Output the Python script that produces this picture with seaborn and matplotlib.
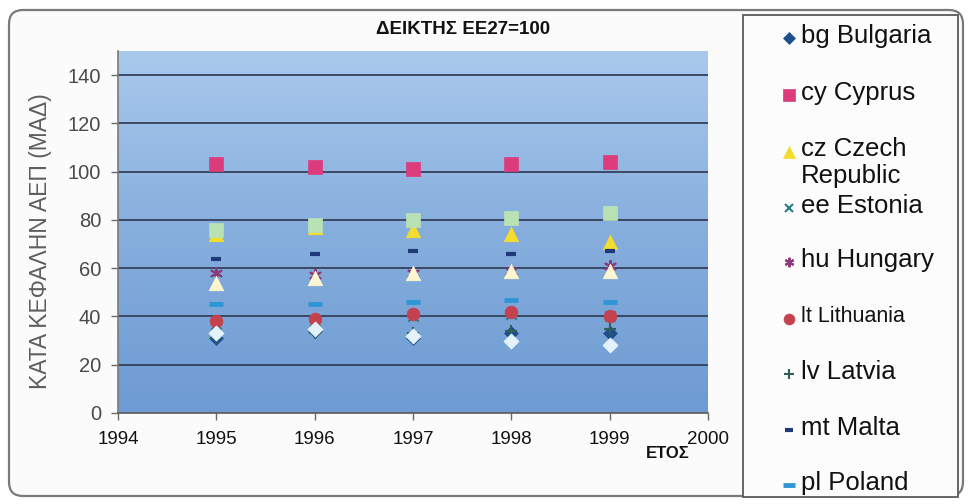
import numpy as np
import pandas as pd
import matplotlib
matplotlib.use("Agg")
import matplotlib.pyplot as plt
import seaborn as sns
from matplotlib.patches import FancyBboxPatch, Rectangle
from matplotlib.colors import LinearSegmentedColormap

# ---------------- data ----------------
years = [1995, 1996, 1997, 1998, 1999]
countries = ["bg Bulgaria", "cy Cyprus", "cz Czech Republic", "ee Estonia",
             "hu Hungary", "lt Lithuania", "lv Latvia", "mt Malta", "pl Poland",
             "ro Romania", "si Slovenia", "sk Slovakia"]
bg = [31, 34, 31, 33, 33]
cy = [103, 102, 101, 103, 104]
cz = [74, 77, 76, 74, 71]
ee = [37, 38, 40, 41, 40]
hu = [58, 57, 58, 59, 61]
lt = [38, 39, 41, 42, 40]
lv = [31, 33, 33, 34, 35]
mt = [64, 66, 67, 66, 67]
pl = [45, 45, 46, 47, 46]
ro = [33, 35, 32, 30, 28]
si = [76, 78, 80, 81, 83]
sk = [54, 56, 58, 59, 59]
series_values = [bg, cy, cz, ee, hu, lt, lv, mt, pl, ro, si, sk]
legend_labels = ["bg Bulgaria", "cy Cyprus", "cz Czech\nRepublic", "ee Estonia",
                 "hu Hungary", "lt Lithuania", "lv Latvia", "mt Malta", "pl Poland"]
title = "ΔΕΙΚΤΗΣ ΕΕ27=100"
xlabel = "ΕΤΟΣ"
ylabel = "ΚΑΤΑ ΚΕΦΑΛΗΝ ΑΕΠ (ΜΑΔ)"
xticks = [1994, 1995, 1996, 1997, 1998, 1999, 2000]
yticks = [0, 20, 40, 60, 80, 100, 120, 140]

rows = []
for name, vals in zip(countries, series_values):
    for yr, v in zip(years, vals):
        rows.append({"country": name, "year": yr, "value": v})
df = pd.DataFrame(rows)

# ---------------- styles ----------------
styles = {
    "bg Bulgaria":       dict(marker="D", color="#1F4E8C", s=50, lw=0.5),
    "cy Cyprus":         dict(marker="s", color="#DC3C7C", s=95, lw=0.5),
    "cz Czech Republic": dict(marker="^", color="#F2DC2E", s=110, lw=0.5),
    "ee Estonia":        dict(marker="x", color="#2A7C8C", s=55, lw=1.5),
    "hu Hungary":        dict(marker=(6, 2, 0), color="#8B3A7A", s=65, lw=1.5),
    "lt Lithuania":      dict(marker="o", color="#C4424E", s=85, lw=0.5),
    "lv Latvia":         dict(marker="+", color="#2F5F5A", s=65, lw=1.5),
    "mt Malta":          dict(marker="_", color="#1F3A78", s=55, lw=3),
    "pl Poland":         dict(marker="_", color="#2E96D6", s=90, lw=3.5),
    "ro Romania":        dict(marker="D", color="#E4F2FB", s=60, lw=0.5),
    "si Slovenia":       dict(marker="s", color="#B9E2B4", s=95, lw=0.5),
    "sk Slovakia":       dict(marker="^", color="#FFF6CF", s=110, lw=0.5),
}

sns.set_theme(style="white")
plt.rcParams["font.family"] = ["Liberation Sans", "DejaVu Sans"]

W, H = 970, 504
fig = plt.figure(figsize=(W / 100, H / 100), dpi=100)
fig.patch.set_facecolor("white")

# background / frame layer (pixel coordinates)
bgax = fig.add_axes([0, 0, 1, 1], zorder=-1)
bgax.set_xlim(0, W)
bgax.set_ylim(H, 0)
bgax.axis("off")
bgax.patch.set_alpha(0)
frame = FancyBboxPatch((9, 10), 954, 486, boxstyle="round,pad=0,rounding_size=14",
                       facecolor="#FBFBFB", edgecolor="#7A7A7A", linewidth=1.6)
bgax.add_patch(frame)
legbox = Rectangle((743, 15), 215, 482, facecolor="#FCFCFC", edgecolor="#5A5A5A",
                   linewidth=1.3)
bgax.add_patch(legbox)

# main plot axes
ax = fig.add_axes([118 / W, 1 - 413 / H, (708 - 118) / W, (413 - 51) / H])
cmap = LinearSegmentedColormap.from_list("bgblue", ["#A9C9EC", "#86AEDD", "#6E9BD3"])
grad = np.linspace(0, 1, 256).reshape(-1, 1)
ax.imshow(grad, aspect="auto", cmap=cmap, extent=[0, 1, 0, 1],
          transform=ax.transAxes, zorder=0)
ax.set_xlim(1994, 2000)
ax.set_ylim(0, 150)
for yv in yticks[1:]:
    ax.axhline(yv, color="#34405A", lw=1.3, zorder=1)

for name in countries:
    st = styles[name]
    sub = df[df["country"] == name]
    kws = dict(marker=st["marker"], color=st["color"], s=st["s"], linewidth=st["lw"])
    mk = matplotlib.markers.MarkerStyle(st["marker"])
    if mk.is_filled():
        kws["edgecolor"] = st["color"]
    sns.scatterplot(data=sub, x="year", y="value", ax=ax, legend=False,
                    zorder=3, **kws)

ax.set_xticks(xticks)
ax.set_xticklabels([str(t) for t in xticks], fontsize=13.5, color="#111111")
ax.set_yticks(yticks)
ax.set_yticklabels([str(t) for t in yticks], fontsize=14.5, color="#4A4A4A")
ax.tick_params(axis="both", which="both", direction="out", length=5, width=1,
               color="#6A6A6A", left=True, bottom=True)
ax.tick_params(axis="y", pad=7)
ax.tick_params(axis="x", pad=8)
for side in ["top", "right"]:
    ax.spines[side].set_visible(False)
ax.spines["left"].set_color("#7A7A7A")
ax.spines["bottom"].set_color("#5A5A5A")
ax.spines["left"].set_linewidth(1.2)
ax.spines["bottom"].set_linewidth(1.2)
ax.set_xlabel("")
ax.set_ylabel("")

# titles and axis labels
bgax.text(463, 29, title, ha="center", va="center", fontsize=13.5,
          fontweight="bold", family=["Liberation Sans Narrow", "Liberation Sans", "DejaVu Sans"],
          color="#111111")
bgax.text(668, 453, xlabel, ha="center", va="center", fontsize=12,
          fontweight="bold", color="#111111")
bgax.text(41, 241, ylabel, ha="center", va="center", rotation=90, fontsize=16.5,
          color="#5E5E5E")

# legend (first nine series)
leg_y = [36, 93, 149, 206, 260, 317, 372, 428, 483]
mx, tx = 789, 801
for name, lab, yy in zip(countries[:9], legend_labels, leg_y):
    st = styles[name]
    mk = matplotlib.markers.MarkerStyle(st["marker"])
    ms = np.sqrt(st["s"]) * 0.85
    kw = dict(marker=st["marker"], markersize=ms, linestyle="none",
              color=st["color"], markeredgewidth=st["lw"] if not mk.is_filled() else 0.5)
    bgax.plot([mx], [yy + 3 if "\n" in lab else yy + 2], **kw)
    fs = 15.5 if name == "lt Lithuania" else 18.5
    if "\n" in lab:
        first, second = lab.split("\n")
        bgax.text(tx, yy, first, ha="left", va="center", fontsize=fs, color="#111111")
        bgax.text(tx, yy + 27, second, ha="left", va="center", fontsize=fs, color="#111111")
    else:
        bgax.text(tx, yy, lab, ha="left", va="center", fontsize=fs, color="#111111")

fig.savefig("out.png", dpi=100)
